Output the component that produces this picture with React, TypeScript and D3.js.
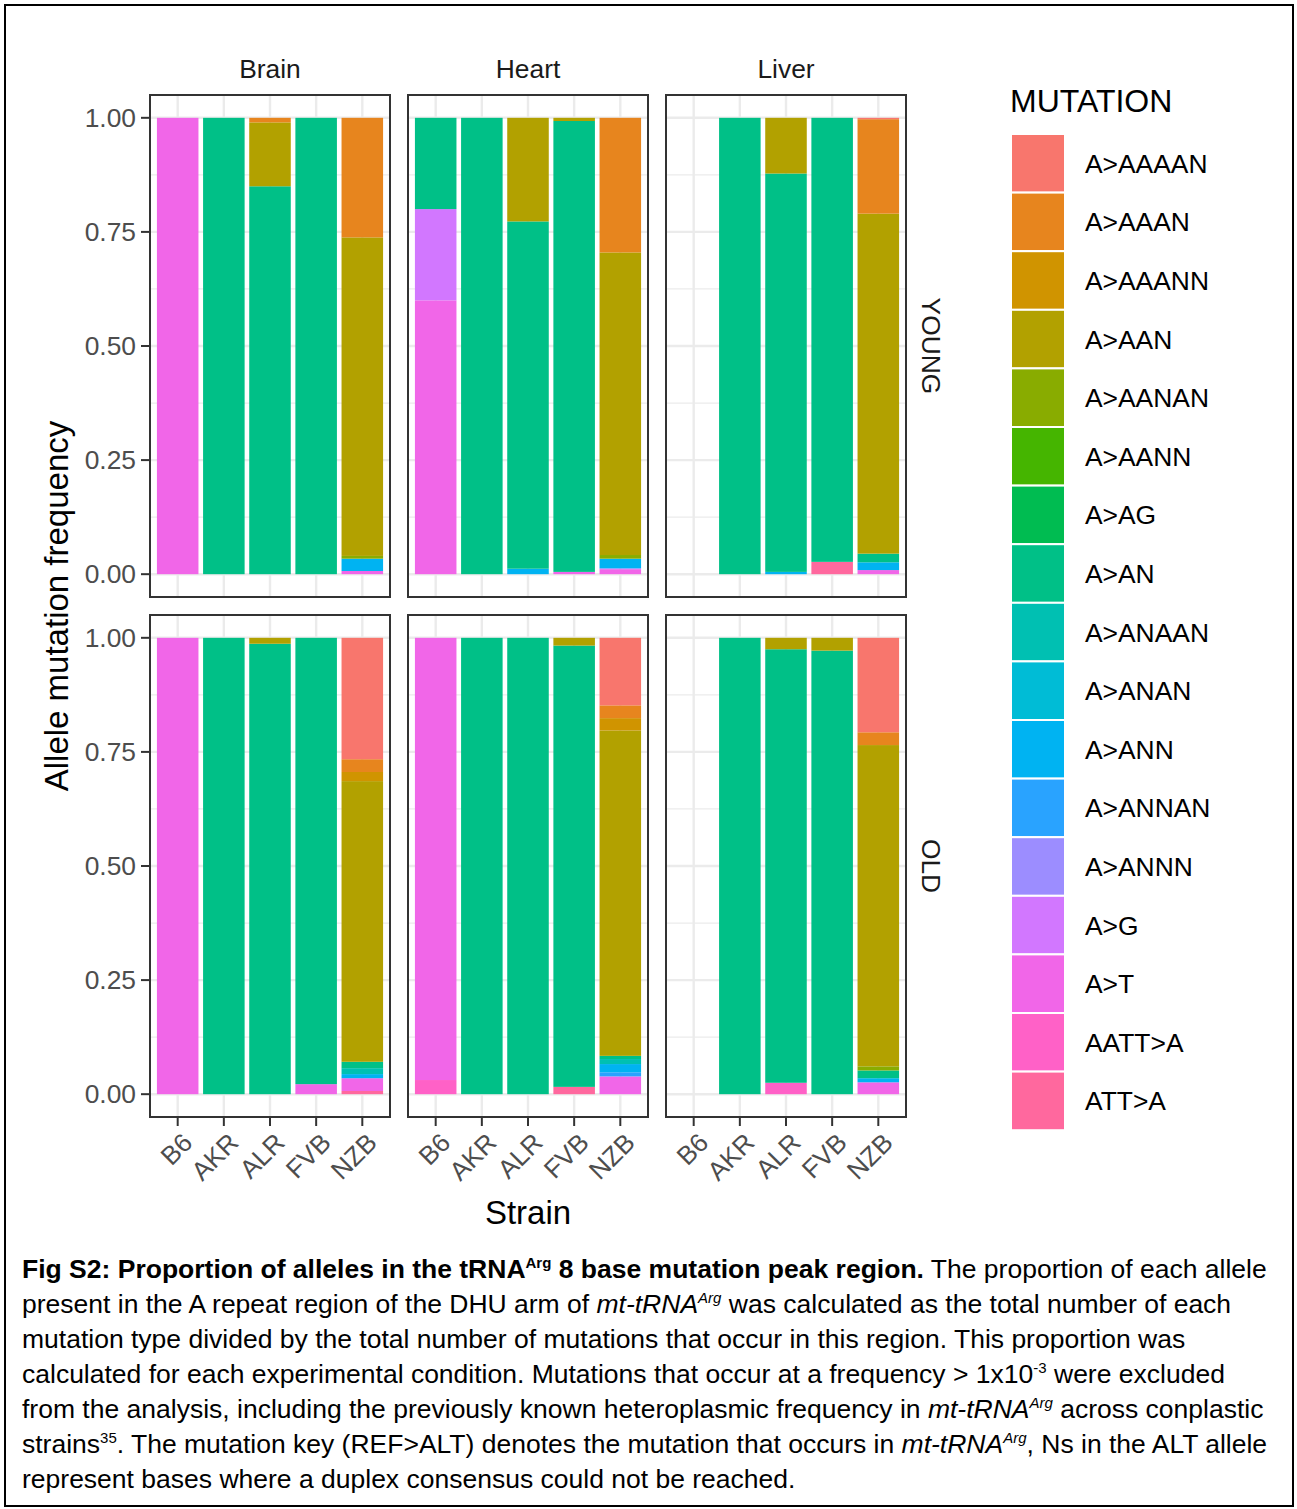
import * as d3 from "d3";

const strains = ["B6", "AKR", "ALR", "FVB", "NZB"];
const tissues = ["Brain", "Heart", "Liver"];
const ages = ["YOUNG", "OLD"];
const mutations = [
  "A>AAAAN", "A>AAAN", "A>AAANN", "A>AAN", "A>AANAN", "A>AANN", "A>AG", "A>AN",
  "A>ANAAN", "A>ANAN", "A>ANN", "A>ANNAN", "A>ANNN", "A>G", "A>T", "AATT>A", "ATT>A",
];
const yTicks = [0, 0.25, 0.5, 0.75, 1];
const yMinor = [0.125, 0.375, 0.625, 0.875];

// [strain, mutation, proportion]
type Row = [string, string, number];

const youngBrain: Row[] = [
  ["B6", "A>T", 1],
  ["AKR", "A>AN", 1],
  ["ALR", "A>AAAN", 0.01], ["ALR", "A>AAN", 0.14], ["ALR", "A>AN", 0.85],
  ["FVB", "A>AN", 1],
  ["NZB", "A>AAAN", 0.262], ["NZB", "A>AAN", 0.698], ["NZB", "A>AANAN", 0.006],
  ["NZB", "A>ANN", 0.027], ["NZB", "A>T", 0.007],
];
const youngHeart: Row[] = [
  ["B6", "A>AN", 0.2], ["B6", "A>G", 0.2], ["B6", "A>T", 0.6],
  ["AKR", "A>AN", 1],
  ["ALR", "A>AAN", 0.227], ["ALR", "A>AN", 0.761], ["ALR", "A>ANN", 0.012],
  ["FVB", "A>AAN", 0.007], ["FVB", "A>AN", 0.988], ["FVB", "A>T", 0.005],
  ["NZB", "A>AAAN", 0.295], ["NZB", "A>AAN", 0.663], ["NZB", "A>AANAN", 0.008],
  ["NZB", "A>ANN", 0.021], ["NZB", "A>ANNN", 0.002], ["NZB", "A>T", 0.011],
];
const youngLiver: Row[] = [
  ["AKR", "A>AN", 1],
  ["ALR", "A>AAN", 0.122], ["ALR", "A>AN", 0.873], ["ALR", "A>ANN", 0.005],
  ["FVB", "A>AN", 0.973], ["FVB", "ATT>A", 0.027],
  ["NZB", "A>AAAAN", 0.003], ["NZB", "A>AAAN", 0.207], ["NZB", "A>AAN", 0.745],
  ["NZB", "A>AN", 0.019], ["NZB", "A>ANN", 0.017], ["NZB", "A>T", 0.009],
];
const oldBrain: Row[] = [
  ["B6", "A>T", 1],
  ["AKR", "A>AN", 1],
  ["ALR", "A>AAN", 0.013], ["ALR", "A>AN", 0.987],
  ["FVB", "A>AN", 0.978], ["FVB", "A>T", 0.022],
  ["NZB", "A>AAAAN", 0.266], ["NZB", "A>AAAN", 0.028], ["NZB", "A>AAANN", 0.02],
  ["NZB", "A>AAN", 0.615], ["NZB", "A>AN", 0.014], ["NZB", "A>ANAAN", 0.013],
  ["NZB", "A>ANN", 0.009], ["NZB", "A>T", 0.028], ["NZB", "ATT>A", 0.007],
];
const oldHeart: Row[] = [
  ["B6", "A>T", 0.969], ["B6", "AATT>A", 0.031],
  ["AKR", "A>AN", 1],
  ["ALR", "A>AN", 1],
  ["FVB", "A>AAN", 0.017], ["FVB", "A>AN", 0.967], ["FVB", "ATT>A", 0.016],
  ["NZB", "A>AAAAN", 0.148], ["NZB", "A>AAAN", 0.028], ["NZB", "A>AAANN", 0.027],
  ["NZB", "A>AAN", 0.713], ["NZB", "A>AN", 0.007], ["NZB", "A>ANAAN", 0.011],
  ["NZB", "A>ANN", 0.018], ["NZB", "A>ANNAN", 0.009], ["NZB", "A>T", 0.039],
];
const oldLiver: Row[] = [
  ["AKR", "A>AN", 1],
  ["ALR", "A>AAN", 0.025], ["ALR", "A>AN", 0.95], ["ALR", "AATT>A", 0.025],
  ["FVB", "A>AAN", 0.028], ["FVB", "A>AN", 0.972],
  ["NZB", "A>AAAAN", 0.207], ["NZB", "A>AAAN", 0.028], ["NZB", "A>AAN", 0.704],
  ["NZB", "A>AANAN", 0.009], ["NZB", "A>AN", 0.017], ["NZB", "A>ANN", 0.009],
  ["NZB", "A>T", 0.026],
];

const panels: Row[][][] = [
  [youngBrain, youngHeart, youngLiver],
  [oldBrain, oldHeart, oldLiver],
];

// ggplot-style hue palette (polar LUV, l=65, c=100)
function hcl(h: number, c = 100, l = 65) {
  const Xn = 0.95047, Yn = 1, Zn = 1.08883;
  const un = (4 * Xn) / (Xn + 15 * Yn + 3 * Zn);
  const vn = (9 * Yn) / (Xn + 15 * Yn + 3 * Zn);
  const Y = Math.pow((l + 16) / 116, 3);
  const r = (h * Math.PI) / 180;
  const up = (c * Math.cos(r)) / (13 * l) + un;
  const vp = (c * Math.sin(r)) / (13 * l) + vn;
  const X = (9 * Y * up) / (4 * vp);
  const Z = -X / 3 - 5 * Y + (3 * Y) / vp;
  const lin = [
    3.2404542 * X - 1.5371385 * Y - 0.4985314 * Z,
    -0.969266 * X + 1.8760108 * Y + 0.041556 * Z,
    0.0556434 * X - 0.2040259 * Y + 1.0572252 * Z,
  ];
  const g = lin.map((v) => {
    const s = v <= 0.0031308 ? 12.92 * v : 1.055 * Math.pow(v, 1 / 2.4) - 0.055;
    return Math.round(Math.max(0, Math.min(1, s)) * 255);
  });
  return d3.rgb(g[0], g[1], g[2]).formatHex();
}
const color = d3
  .scaleOrdinal<string, string>()
  .domain(mutations)
  .range(mutations.map((_, i) => hcl(15 + (360 / mutations.length) * i)));

const FONT = "'Liberation Sans', Arial, Helvetica, sans-serif";
const pLeft = [150, 408, 666];
const pTop = [95, 615];
const pw = 240;
const ph = 502;

const x = d3.scaleLinear().domain([0.4, 5.6]).range([0, pw]);
const unit = x(1) - x(0);
const y = d3.scaleLinear().domain([-0.05, 1.05]).range([ph, 0]);

const stackGen = d3.stack<Record<string, number>>().keys([...mutations].reverse());

function Panel({ rows, left, top }: { rows: Row[]; left: number; top: number }) {
  const table = strains.map((s) => {
    const o: Record<string, number> = {};
    mutations.forEach((m) => (o[m] = 0));
    rows.filter((r) => r[0] === s).forEach((r) => (o[r[1]] += r[2]));
    return o;
  });
  const series = stackGen(table);
  return (
    <g transform={`translate(${left},${top})`}>
      <rect width={pw} height={ph} fill="white" />
      {yMinor.map((t) => (
        <line key={"n" + t} x1={0} x2={pw} y1={y(t)} y2={y(t)} stroke="#EBEBEB" strokeWidth={1.2} />
      ))}
      {yTicks.map((t) => (
        <line key={"m" + t} x1={0} x2={pw} y1={y(t)} y2={y(t)} stroke="#EBEBEB" strokeWidth={2.4} />
      ))}
      {strains.map((s, i) => (
        <line key={s} x1={x(i + 1)} x2={x(i + 1)} y1={0} y2={ph} stroke="#EBEBEB" strokeWidth={2.4} />
      ))}
      {series.map((ser) =>
        ser.map((d, i) => {
          const h = y(d[0]) - y(d[1]);
          if (h <= 0) return null;
          return (
            <rect
              key={ser.key + i}
              x={x(i + 1) - unit * 0.45}
              y={y(d[1])}
              width={unit * 0.9}
              height={h}
              fill={color(ser.key)}
            />
          );
        })
      )}
      <rect width={pw} height={ph} fill="none" stroke="#333333" strokeWidth={2} />
    </g>
  );
}

const legendTop = 134;
const keyH = 58.6;
const SUP = 15;

export default function App() {
  return (
    <svg
      width={1297}
      height={1509}
      style={{ position: "absolute", left: 0, top: 0, background: "white" }}
      fontFamily={FONT}
    >
      <rect x={5} y={5} width={1288} height={1501} fill="white" stroke="#000" strokeWidth={2} />
      {ages.map((a, r) =>
        tissues.map((t, c) => (
          <Panel key={a + t} rows={panels[r][c]} left={pLeft[c]} top={pTop[r]} />
        ))
      )}
      {/* strips */}
      {tissues.map((t, c) => (
        <text key={t} x={pLeft[c] + pw / 2} y={78} textAnchor="middle" fontSize={26.4} fill="#1A1A1A">
          {t}
        </text>
      ))}
      {ages.map((a, r) => (
        <text
          key={a}
          transform={`translate(${922},${pTop[r] + ph / 2}) rotate(90)`}
          textAnchor="middle"
          fontSize={26.4}
          fill="#1A1A1A"
        >
          {a}
        </text>
      ))}
      {/* y axes */}
      {pTop.map((top) => (
        <g key={top} transform={`translate(${pLeft[0]},${top})`}>
          {yTicks.map((t) => (
            <g key={t}>
              <line x1={-9} x2={0} y1={y(t)} y2={y(t)} stroke="#333333" strokeWidth={2} />
              <text x={-14} y={y(t)} dy="0.35em" textAnchor="end" fontSize={26.4} fill="#4D4D4D">
                {d3.format(".2f")(t)}
              </text>
            </g>
          ))}
        </g>
      ))}
      {/* x axes */}
      {pLeft.map((left) => (
        <g key={left} transform={`translate(${left},${pTop[1] + ph})`}>
          {strains.map((s, i) => (
            <g key={s}>
              <line x1={x(i + 1)} x2={x(i + 1)} y1={0} y2={9} stroke="#333333" strokeWidth={2} />
              <text
                transform={`translate(${x(i + 1) + 3},${14}) rotate(-45)`}
                dy="0.72em"
                textAnchor="end"
                fontSize={26}
                fill="#4D4D4D"
              >
                {s}
              </text>
            </g>
          ))}
        </g>
      ))}
      <text x={528} y={1224} textAnchor="middle" fontSize={33} fill="#000">
        Strain
      </text>
      <text
        transform={`translate(68,${(pTop[0] + pTop[1] + ph) / 2}) rotate(-90)`}
        textAnchor="middle"
        fontSize={33}
        fill="#000"
      >
        Allele mutation frequency
      </text>
      {/* legend */}
      <text x={1010} y={112} fontSize={32} fill="#000">
        MUTATION
      </text>
      {mutations.map((m, i) => (
        <g key={m}>
          <rect
            x={1011}
            y={legendTop + i * keyH}
            width={54}
            height={keyH}
            fill={color(m)}
            stroke="white"
            strokeWidth={2}
          />
          <text x={1085} y={legendTop + i * keyH + keyH / 2} dy="0.36em" fontSize={26.4} fill="#000">
            {m}
          </text>
        </g>
      ))}
      {/* caption */}
      <g fontSize={26.5} fill="#000">
        <text x={22} y={1278}>
          <tspan fontWeight="bold">Fig S2: Proportion of alleles in the tRNA</tspan>
          <tspan fontWeight="bold" fontSize={SUP} dy={-10}>Arg</tspan>
          <tspan fontWeight="bold" dy={10}> 8 base mutation peak region.</tspan>
          <tspan> The proportion of each allele</tspan>
        </text>
        <text x={22} y={1313}>
          <tspan>present in the A repeat region of the DHU arm of </tspan>
          <tspan fontStyle="italic">mt-tRNA</tspan>
          <tspan fontStyle="italic" fontSize={SUP} dy={-10}>Arg</tspan>
          <tspan dy={10}> was calculated as the total number of each</tspan>
        </text>
        <text x={22} y={1348}>
          mutation type divided by the total number of mutations that occur in this region. This proportion was
        </text>
        <text x={22} y={1383}>
          <tspan>calculated for each experimental condition. Mutations that occur at a frequency &gt; 1x10</tspan>
          <tspan fontSize={SUP} dy={-10}>-3</tspan>
          <tspan dy={10}> were excluded</tspan>
        </text>
        <text x={22} y={1418}>
          <tspan>from the analysis, including the previously known heteroplasmic frequency in </tspan>
          <tspan fontStyle="italic">mt-tRNA</tspan>
          <tspan fontStyle="italic" fontSize={SUP} dy={-10}>Arg</tspan>
          <tspan dy={10}> across conplastic</tspan>
        </text>
        <text x={22} y={1453}>
          <tspan>strains</tspan>
          <tspan fontSize={SUP} dy={-10}>35</tspan>
          <tspan dy={10}>. The mutation key (REF&gt;ALT) denotes the mutation that occurs in </tspan>
          <tspan fontStyle="italic">mt-tRNA</tspan>
          <tspan fontStyle="italic" fontSize={SUP} dy={-10}>Arg</tspan>
          <tspan dy={10}>, Ns in the ALT allele</tspan>
        </text>
        <text x={22} y={1488}>represent bases where a duplex consensus could not be reached.</text>
      </g>
    </svg>
  );
}
